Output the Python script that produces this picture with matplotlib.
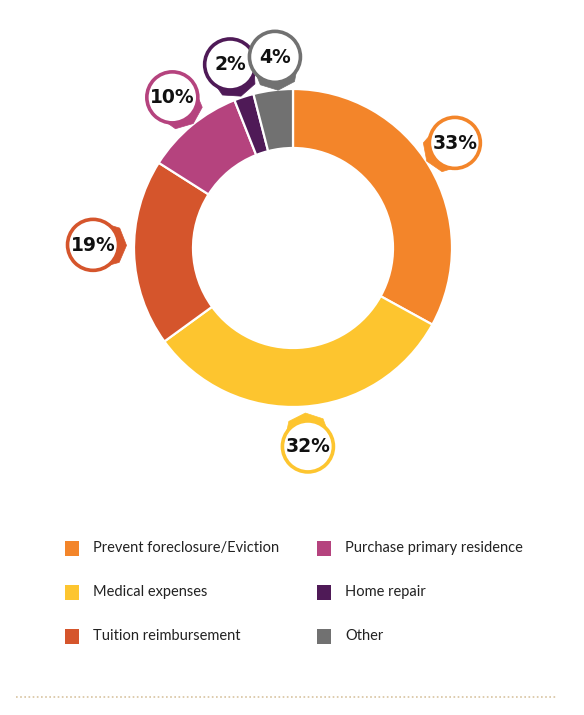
import numpy as np
import matplotlib
matplotlib.use("Agg")
import matplotlib.pyplot as plt
from matplotlib.patches import Circle, Polygon, Rectangle

categories = ["Prevent foreclosure/Eviction", "Medical expenses", "Tuition reimbursement",
              "Purchase primary residence", "Home repair", "Other"]
values = [33, 32, 19, 10, 2, 4]
labels = ["33%", "32%", "19%", "10%", "2%", "4%"]
colors = ["#F3852A", "#FDC52F", "#D5552C", "#B5437E", "#4F1A57", "#717171"]

# label-bubble layout nudges (angle offset in degrees, radial distance in px)
bubble_nudge = [2.4, 0.7, -2.7, -0.9, 0.9, -1.8]
bubble_dist = [193, 199, 200, 193, 194, 192]

W, H = 584, 715
fig = plt.figure(figsize=(W / 100, H / 100), dpi=100)
ax = fig.add_axes([0, 0, 1, 1])

cx, cy = 293, H - 248
R_out, ring_w = 159, 59

wedges, _ = ax.pie(values, colors=colors, startangle=90, counterclock=False,
                   center=(cx, cy), radius=R_out,
                   wedgeprops=dict(width=ring_w, edgecolor="white", linewidth=1.6))

ax.set_xlim(0, W)
ax.set_ylim(0, H)
ax.set_aspect("equal")
ax.axis("off")

# bubbles
br = 25.5
for w, lab, col, nud, dist in zip(wedges, labels, colors, bubble_nudge, bubble_dist):
    mid = np.deg2rad((w.theta1 + w.theta2) / 2 + nud)
    bx = cx + dist * np.cos(mid)
    by = cy + dist * np.sin(mid)
    d = np.arctan2(cy - by, cx - bx)  # direction toward donut centre
    pts = []
    for r, a in [(25, -56), (31.5, -33), (33.5, 0), (31.5, 33), (25, 56)]:
        aa = d + np.deg2rad(a)
        pts.append((bx + r * np.cos(aa), by + r * np.sin(aa)))
    ax.add_patch(Polygon(pts, closed=True, facecolor=col, edgecolor=col, lw=0.5,
                         joinstyle="miter", zorder=3))
    ax.add_patch(Circle((bx, by), br, facecolor="white", edgecolor=col, lw=2.6, zorder=4))
    ax.text(bx, by - 0.5, lab, ha="center", va="center", fontsize=13.5, fontweight="bold",
            color="#111111", family="DejaVu Sans", zorder=5)

# legend
col_x = [65, 317]
row_y = [548, 592, 636]
for i, (cat, col) in enumerate(zip(categories, colors)):
    c, r = divmod(i, 3)
    x0 = col_x[c]
    y0 = H - row_y[r]
    ax.add_patch(Rectangle((x0, y0 - 7.5), 14, 15, facecolor=col, edgecolor="none"))
    ax.text(x0 + 28, y0, cat, ha="left", va="center", fontsize=10.5,
            family="Lato", color="#222222")

# dotted rule at bottom
ax.plot([16, 556], [H - 697, H - 697], color="#D8C3A0", lw=1.2,
        linestyle=(0, (1, 1.5)))

fig.savefig("out.png", dpi=100)
